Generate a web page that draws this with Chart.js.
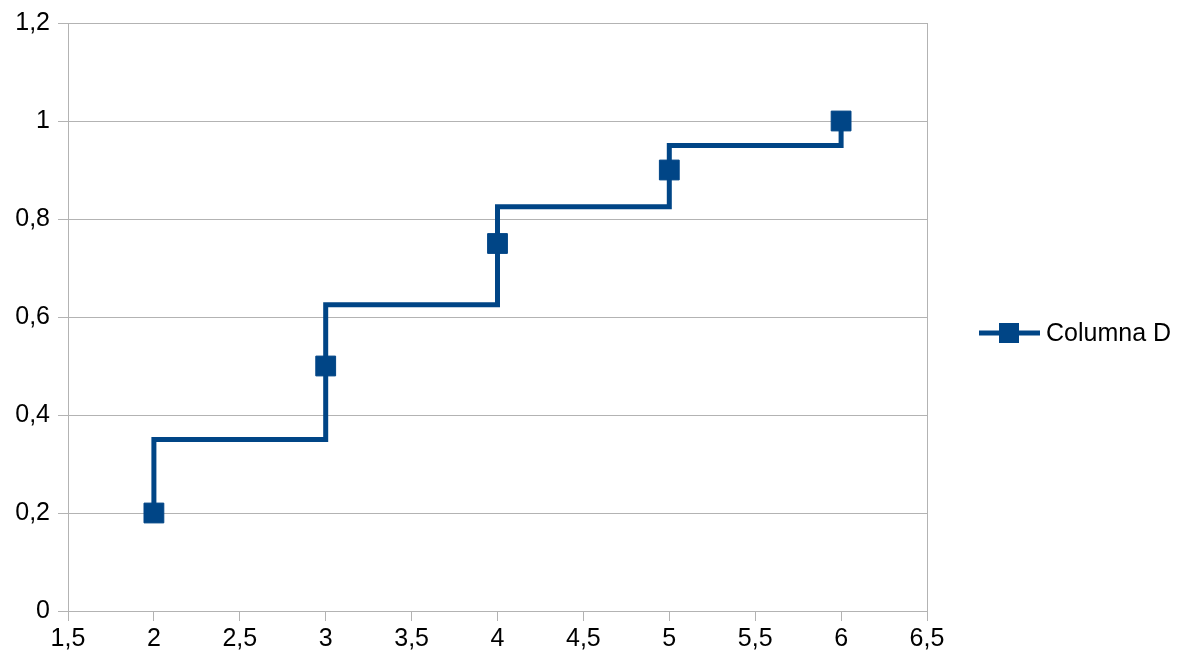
<!DOCTYPE html>
<html>
<head>
<meta charset="utf-8">
<script src="https://cdn.jsdelivr.net/npm/chart.js@4/dist/chart.umd.min.js"></script>
<style>
  body { margin: 0; background: #fff; }
  #wrap { width: 1189px; height: 659px; }
</style>
</head>
<body>
<div id="wrap"><canvas id="stepChart" width="1189" height="659"></canvas></div>
<script>
// data for "Columna D"
const seriesName = 'Columna D';
const xValues = [2, 3, 4, 5, 6];
const yValues = [0.2, 0.5, 0.75, 0.9, 1.0];

const lineColor = '#004586';
const gridColor = '#b3b3b3';
const fontFamily = '"Liberation Sans", Arial, sans-serif';
const fontSize = 25;

// step path: vertical at each x, horizontal run at the midpoint between neighbours
function buildSteps(xs, ys) {
    const pts = [];
    for (let i = 0; i < xs.length - 1; i++) {
        const mid = (ys[i] + ys[i + 1]) / 2;
        pts.push({ x: xs[i], y: ys[i] });
        pts.push({ x: xs[i], y: mid });
        pts.push({ x: xs[i + 1], y: mid });
    }
    pts.push({ x: xs[xs.length - 1], y: ys[ys.length - 1] });
    return pts;
}

// decimal comma labels
function fmt(v) {
    const r = Math.round(v * 10) / 10;
    return String(r).replace('.', ',');
}

// legend on the right: line with a square marker and the series name
const sideLegend = {
    id: 'sideLegend',
    afterDraw(chart) {
        const ctx = chart.ctx;
        const cy = 333;
        ctx.save();
        ctx.strokeStyle = lineColor;
        ctx.lineWidth = 5;
        ctx.beginPath();
        ctx.moveTo(979, cy);
        ctx.lineTo(1040, cy);
        ctx.stroke();
        ctx.fillStyle = lineColor;
        ctx.fillRect(999, cy - 10, 20, 20);
        ctx.fillStyle = '#000';
        ctx.font = fontSize + 'px ' + fontFamily;
        ctx.textBaseline = 'middle';
        ctx.textAlign = 'left';
        ctx.fillText(seriesName, 1046, cy + 1);
        ctx.restore();
    }
};

const ctx = document.getElementById('stepChart').getContext('2d');
new Chart(ctx, {
    type: 'scatter',
    data: {
        datasets: [
            {
                label: seriesName,
                data: xValues.map((x, i) => ({ x: x, y: yValues[i] })),
                pointStyle: 'rect',
                pointRadius: 14,
                pointBorderWidth: 1,
                backgroundColor: lineColor,
                borderColor: lineColor,
                showLine: false,
                order: 0
            },
            {
                label: seriesName + ' steps',
                data: buildSteps(xValues, yValues),
                showLine: true,
                borderColor: lineColor,
                borderWidth: 5,
                borderJoinStyle: 'miter',
                pointRadius: 0,
                fill: false,
                order: 1
            }
        ]
    },
    options: {
        responsive: false,
        animation: false,
        layout: { padding: { top: 21, right: 262, left: 0, bottom: 0 } },
        plugins: {
            legend: { display: false },
            tooltip: { enabled: false }
        },
        scales: {
            x: {
                type: 'linear',
                min: 1.5,
                max: 6.5,
                ticks: {
                    stepSize: 0.5,
                    color: '#000',
                    padding: 3,
                    font: { family: fontFamily, size: fontSize },
                    callback: v => fmt(v)
                },
                grid: {
                    color: c => (c.index === 0 || c.index === 10) ? gridColor : 'rgba(0,0,0,0)',
                    tickColor: gridColor,
                    tickLength: 10,
                    lineWidth: 1
                },
                border: { color: gridColor },
                afterFit: s => { s.height = 48; }
            },
            y: {
                min: 0,
                max: 1.2,
                ticks: {
                    stepSize: 0.2,
                    color: '#000',
                    padding: 8,
                    font: { family: fontFamily, size: fontSize },
                    callback: v => fmt(v)
                },
                grid: {
                    color: gridColor,
                    tickColor: gridColor,
                    tickLength: 10,
                    lineWidth: 1
                },
                border: { color: gridColor },
                afterFit: s => { s.width = 68; }
            }
        }
    },
    plugins: [sideLegend]
});
</script>
</body>
</html>
